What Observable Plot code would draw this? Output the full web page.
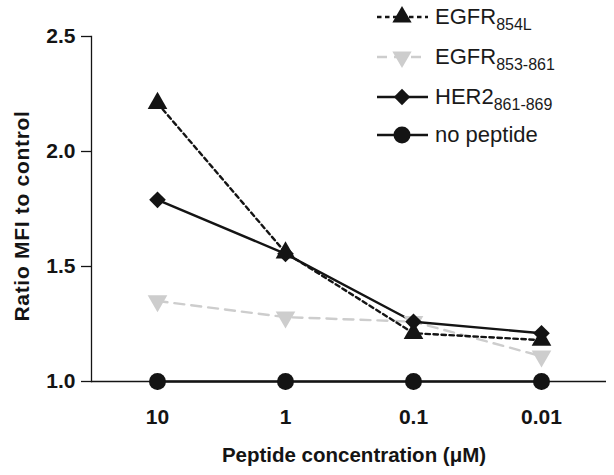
<!DOCTYPE html>
<html><head><meta charset="utf-8">
<script src="https://cdn.jsdelivr.net/npm/d3@7"></script>
<script src="https://cdn.jsdelivr.net/npm/@observablehq/plot@0.6"></script>
<style>
body{margin:0;background:#fff;font-family:"Liberation Sans",Arial,Helvetica,sans-serif;}
#wrap{position:relative;width:614px;height:475px;}
#legend{position:absolute;left:375px;top:0;width:239px;height:160px;}
.row{position:absolute;left:0;height:40px;display:flex;align-items:center;white-space:nowrap;font-size:22px;color:#1a1a1a;}
.row svg{margin-right:5px;flex:none}
.row sub{font-size:16px;position:relative;top:6px;vertical-align:baseline;}
</style></head><body><div id="wrap"><div id="chart"></div><div id="legend"></div></div>
<script>
// categories (x) and series values
const concentrations = ["10", "1", "0.1", "0.01"];
const egfr854L   = [2.21, 1.56, 1.21, 1.18];
const egfr853861 = [1.35, 1.28, 1.26, 1.11];
const her2       = [1.79, 1.555, 1.26, 1.21];
const noPeptide  = [1.0, 1.0, 1.0, 1.0];
const seriesKeys = ["EGFR854L", "EGFR853-861", "HER2861-869", "no peptide"];
const legendMain = ["EGFR", "EGFR", "HER2", "no peptide"];
const legendSub  = ["854L", "853-861", "861-869", ""];
const yTicks = [1.0, 1.5, 2.0, 2.5];
const xLabel = "Peptide concentration (\u03bcM)";
const yLabel = "Ratio MFI to control";

const seriesValues = [egfr854L, egfr853861, her2, noPeptide];
const styles = [
  {stroke: "#141414", dash: "4.5,3.5", symbol: "triangle", r: 7.3, rotate: 0, area: 160},
  {stroke: "#cdcdcd", dash: "10,7", symbol: "triangle", r: 7.3, rotate: 180, area: 160},
  {stroke: "#141414", dash: null, symbol: "diamond2", r: 7.5, rotate: 0, area: 170},
  {stroke: "#141414", dash: null, symbol: "circle", r: 8.5, rotate: 0, area: 227}
];
const rows = seriesKeys.map((k, i) => concentrations.map((c, j) => ({series: k, conc: c, value: seriesValues[i][j]})));
const drawOrder = [1, 3, 0, 2];

const marks = [
  Plot.frame({anchor: "left", stroke: "#141414", strokeWidth: 1.3}),
  Plot.ruleY([1], {stroke: "#141414", strokeWidth: 1.3}),
  Plot.axisY({ticks: yTicks, tickFormat: d => d.toFixed(1), tickSize: 10, tickPadding: 6, fontSize: 21, fontWeight: "bold", label: null, stroke: "#141414", strokeWidth: 1.3}),
  Plot.axisX({tickSize: 9, tickPadding: 19, fontSize: 21, fontWeight: "bold", label: null, stroke: "#141414", strokeWidth: 1.3}),
  Plot.text([xLabel], {frameAnchor: "bottom", dx: 5, dy: 80, fontSize: 20.5, fontWeight: "bold", fill: "#141414"}),
  Plot.text([yLabel], {frameAnchor: "left", textAnchor: "middle", dx: -69, dy: 7, rotate: -90, fontSize: 21, fontWeight: "bold", fill: "#141414"})
];
for (const i of drawOrder) {
  const s = styles[i];
  marks.push(Plot.line(rows[i], {x: "conc", y: "value", stroke: s.stroke, strokeWidth: 2.4, strokeDasharray: s.dash}));
}
for (const i of drawOrder) {
  const s = styles[i];
  marks.push(Plot.dot(rows[i], {x: "conc", y: "value", symbol: s.symbol, r: s.r, fill: s.stroke, stroke: "none", rotate: s.rotate}));
}

const chart = Plot.plot({
  width: 614, height: 475,
  marginLeft: 91, marginRight: 8, marginTop: 36, marginBottom: 94,
  style: {fontFamily: "'Liberation Sans', Arial, sans-serif", color: "#141414", background: "#fff"},
  x: {type: "point", domain: concentrations, padding: 0.5},
  y: {domain: [1, 2.5]},
  marks
});
document.getElementById("chart").appendChild(chart);
chart.querySelectorAll("text").forEach(t => { if (t.textContent === yLabel) t.style.letterSpacing = "0.7px"; });

// legend
const legend = document.getElementById("legend");
const symMap = {triangle: d3.symbolTriangle, diamond2: d3.symbolDiamond2, circle: d3.symbolCircle};
const centers = [17, 57, 97, 135];
seriesKeys.forEach((k, i) => {
  const s = styles[i];
  const row = document.createElement("div");
  row.className = "row";
  row.style.top = (centers[i] - 20) + "px";
  const path = d3.symbol(symMap[s.symbol], s.area)();
  row.innerHTML = `<svg width="55" height="24" viewBox="0 0 55 24">
    <line x1="2" x2="53" y1="12" y2="12" stroke="${s.stroke}" stroke-width="2.6" ${s.dash ? `stroke-dasharray="${s.dash}"` : ""}/>
    <path d="${path}" transform="translate(27,12) rotate(${s.rotate})" fill="${s.stroke}"/>
  </svg><span>${legendMain[i]}${legendSub[i] ? `<sub>${legendSub[i]}</sub>` : ""}</span>`;
  legend.appendChild(row);
});
</script></body></html>
